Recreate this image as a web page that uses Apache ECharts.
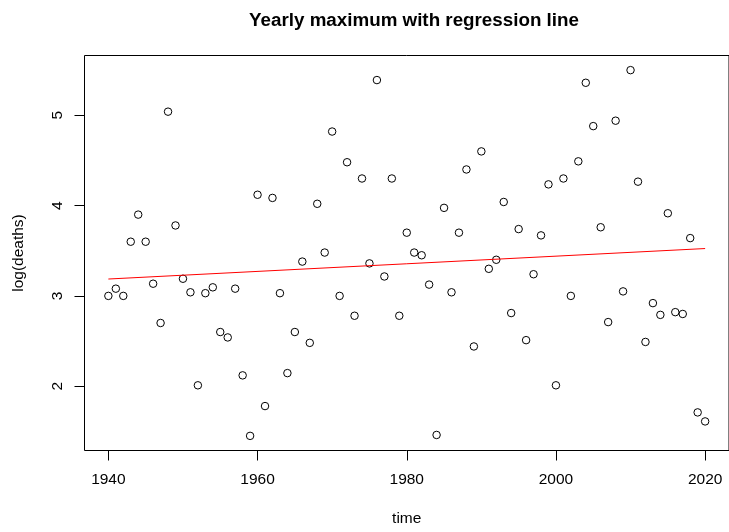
<!DOCTYPE html>
<html>
<head>
<meta charset="utf-8">
<script src="https://cdn.jsdelivr.net/npm/echarts@6/dist/echarts.min.js"></script>
<style>
html,body{margin:0;padding:0;background:#fff;}
#chart{width:729px;height:532px;}
</style>
</head>
<body>
<div id="chart"></div>
<script>
const years = [1940,1941,1942,1943,1944,1945,1946,1947,1948,1949,
  1950,1951,1952,1953,1954,1955,1956,1957,1958,1959,
  1960,1961,1962,1963,1964,1965,1966,1967,1968,1969,
  1970,1971,1972,1973,1974,1975,1976,1977,1978,1979,
  1980,1981,1982,1983,1984,1985,1986,1987,1988,1989,
  1990,1991,1992,1993,1994,1995,1996,1997,1998,1999,
  2000,2001,2002,2003,2004,2005,2006,2007,2008,2009,
  2010,2011,2012,2013,2014,2015,2016,2017,2018,2019,2020];
const logDeaths = [3.00,3.08,3.00,3.60,3.90,3.60,3.135,2.70,5.04,3.78,
  3.19,3.04,2.01,3.03,3.095,2.60,2.54,3.08,2.12,1.45,
  4.12,1.78,4.085,3.03,2.145,2.60,3.38,2.48,4.02,3.48,
  4.82,3.00,4.48,2.78,4.30,3.36,5.39,3.215,4.30,2.78,
  3.70,3.48,3.45,3.125,1.46,3.975,3.04,3.70,4.40,2.44,
  4.60,3.30,3.40,4.04,2.81,3.74,2.51,3.24,3.67,4.235,
  2.01,4.30,3.00,4.49,5.36,4.88,3.76,2.71,4.94,3.05,
  5.50,4.265,2.49,2.92,2.79,3.915,2.82,2.80,3.64,1.71,1.61];
const xTicks = [1940,1960,1980,2000,2020];
const yTicks = [2,3,4,5];
const titleText = 'Yearly maximum with regression line';
const xName = 'time';
const yName = 'log(deaths)';

// least-squares regression of log(deaths) on time
const n = years.length;
let sx=0, sy=0, sxx=0, sxy=0;
for (let i=0;i<n;i++){ sx+=years[i]; sy+=logDeaths[i]; sxx+=years[i]*years[i]; sxy+=years[i]*logDeaths[i]; }
const slope = (n*sxy - sx*sy)/(n*sxx - sx*sx);
const intercept = (sy - slope*sx)/n;
const x0 = Math.min(...years), x1 = Math.max(...years);
const fitLine = [[x0, intercept+slope*x0],[x1, intercept+slope*x1]];

// R-style 4% axis extension
const xr = x1 - x0;
const yMin = Math.min(...logDeaths), yMax = Math.max(...logDeaths);
const yr = yMax - yMin;

const font = 'Liberation Sans, Arial, Helvetica, sans-serif';
const chart = echarts.init(document.getElementById('chart'), null, {renderer:'canvas'});
chart.setOption({
  animation:false,
  backgroundColor:'#fff',
  title:{
    text:titleText, left:409, top:6, textAlign:'center',
    textStyle:{fontFamily:font,fontSize:18.8,fontWeight:'bold',color:'#000'}
  },
  grid:{left:84.5, top:55.5, width:649, height:399, show:true, borderColor:'#000', borderWidth:1, backgroundColor:'transparent'},
  xAxis:{
    type:'value', min:x0-0.04*xr, max:x1+0.04*xr,
    name:xName, nameLocation:'middle', nameGap:68.5,
    nameTextStyle:{fontFamily:font,fontSize:15.5,color:'#000',verticalAlign:'middle',align:'center'},
    axisLine:{show:false},
    axisTick:{show:true, inside:false, length:10, customValues:xTicks, lineStyle:{color:'#000',width:1}},
    axisLabel:{customValues:xTicks, formatter:(v)=>String(v), margin:29, verticalAlign:'middle', fontFamily:font,fontSize:15.5,color:'#000'},
    splitLine:{show:false}
  },
  yAxis:{
    type:'value', min:yMin-0.04*yr, max:yMax+0.04*yr,
    name:yName, nameLocation:'middle', nameGap:65.5, nameRotate:90,
    nameTextStyle:{fontFamily:font,fontSize:15.5,color:'#000',verticalAlign:'middle',align:'center'},
    axisLine:{show:false},
    axisTick:{show:true, inside:false, length:10, customValues:yTicks, lineStyle:{color:'#000',width:1}},
    axisLabel:{customValues:yTicks, formatter:(v)=>String(v), rotate:90, margin:26.5, align:'center', verticalAlign:'middle', fontFamily:font,fontSize:15.5,color:'#000'},
    splitLine:{show:false}
  },
  series:[
    {
      type:'scatter',
      data:years.map((y,i)=>[y, logDeaths[i]]),
      symbol:'circle', symbolSize:7.5,
      itemStyle:{color:'rgba(0,0,0,0)', borderColor:'#000', borderWidth:1, opacity:1},
      emphasis:{disabled:true},
      clip:false
    },
    {
      type:'line',
      data:fitLine,
      showSymbol:false, symbol:'none',
      lineStyle:{color:'#ff0000', width:1},
      emphasis:{disabled:true}
    }
  ]
});
</script>
</body>
</html>
